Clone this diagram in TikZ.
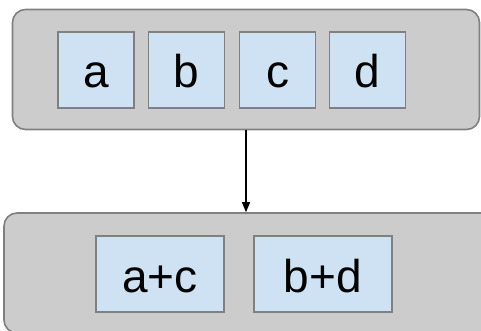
\documentclass[tikz,border=0pt]{standalone}
\usepackage{fontspec}
\setmainfont{Liberation Sans}
\usetikzlibrary{arrows.meta}

\definecolor{panelgray}{HTML}{CCCCCC}
\definecolor{edgegray}{HTML}{808080}
\definecolor{cellblue}{HTML}{CFE2F3}

\begin{document}
\begin{tikzpicture}[x=1pt,y=-1pt,
    panel/.style={rectangle,rounded corners=13pt,draw=edgegray,fill=panelgray,line width=1.6pt,inner sep=0pt},
    cell/.style={rectangle,draw=edgegray,fill=cellblue,line width=1.6pt,inner sep=0pt,
      minimum height=76pt,text height=36pt,text depth=0pt,font=\fontsize{46}{50}\selectfont},
    arr/.style={-{Triangle[length=10pt,width=8pt]},line width=1.3pt}]

\useasboundingbox (0,0) rectangle (481,331);
\clip (0,0) rectangle (481,331);

\node[panel,minimum width=467pt,minimum height=120pt] (top) at (246,69.5) {};
\node[panel,minimum width=520pt,minimum height=120pt] (bot) at (264,273) {};

\node[cell,minimum width=76pt] (a) at (96,70) {a};
\node[cell,minimum width=76pt] (b) at (186.5,70) {b};
\node[cell,minimum width=76pt] (c) at (277.5,70) {c};
\node[cell,minimum width=76pt] (d) at (367.5,70) {d};

\node[cell,minimum width=128pt] (ac) at (160,274) {a+c};
\node[cell,minimum width=138pt] (bd) at (323,274) {b+d};

\draw[arr] (top.south) -- (top.south |- bot.north);
\end{tikzpicture}
\end{document}
